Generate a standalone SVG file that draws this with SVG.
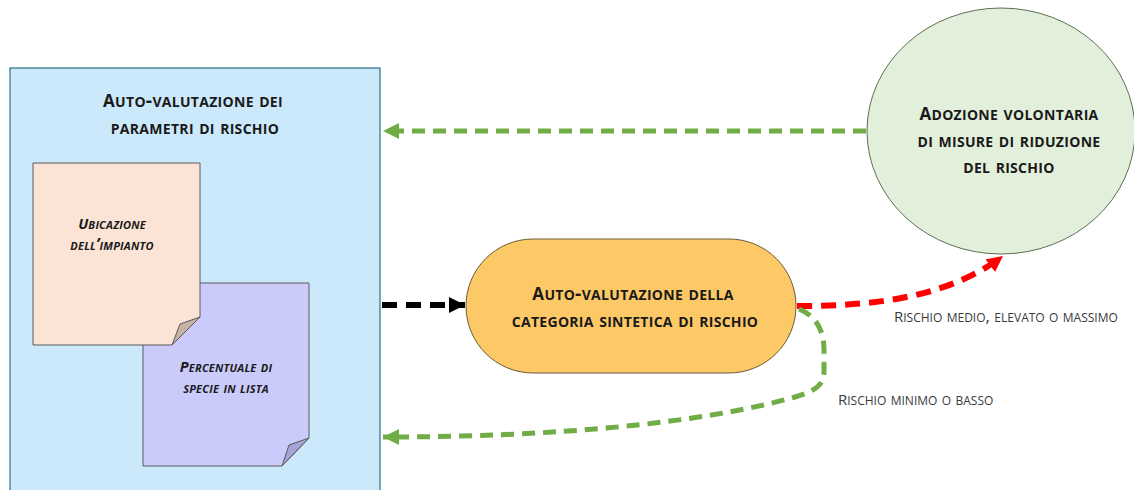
<svg xmlns="http://www.w3.org/2000/svg" width="1134" height="490" viewBox="0 0 1134 490">
<style>
text{font-family:"Open Sans","Liberation Sans",sans-serif;font-variant:small-caps;fill:#1a1a1a;text-anchor:middle}
.t{font-size:19.5px;font-weight:bold;letter-spacing:0.3px}
.t .c{font-size:17px}
.n{font-size:16px;font-weight:bold;font-style:italic;letter-spacing:0.2px}
.n .c{font-size:14.5px}
.l{font-size:17px;text-anchor:start;fill:#3a3a3a}
.l .c{font-size:15px}
.dg{fill:none;stroke:#70ad47;stroke-width:5;stroke-dasharray:13 8}
.dk{fill:none;stroke-width:6;stroke-dasharray:15 9}
</style>
<defs>
<marker id="ag" markerUnits="userSpaceOnUse" markerWidth="20" markerHeight="20" refX="16" refY="8" orient="auto"><path d="M0,0 L16,8 L0,16 z" fill="#70ad47"/></marker>
<marker id="ak" markerUnits="userSpaceOnUse" markerWidth="20" markerHeight="20" refX="16" refY="8" orient="auto"><path d="M0,0 L16,8 L0,16 z" fill="#000"/></marker>
<marker id="ar" markerUnits="userSpaceOnUse" markerWidth="20" markerHeight="20" refX="16" refY="8" orient="auto"><path d="M0,0 L16,8 L0,16 z" fill="#ff0000"/></marker>
</defs>
<rect width="1134" height="490" fill="#fff"/>
<g id="params">
<rect x="10" y="68" width="370" height="430" fill="#cbe9fa" stroke="#2f6f86" stroke-width="1.2"/>
<text class="t" x="193" y="107"><tspan class="c">A</tspan>uto-valutazione dei</text>
<text class="t" x="195" y="134">parametri di rischio</text>
</g>
<g id="percentuale">
<path d="M143,283 H309 V438 L282,466 H143 Z" fill="#cbcbfb" stroke="#5a5a5a" stroke-width="1"/>
<path d="M282,466 L289,445 L309,438 Z" fill="#a3a3d6" stroke="#5a5a5a" stroke-width="1"/>
<text class="n" x="226" y="372"><tspan class="c">P</tspan>ercentuale di</text>
<text class="n" x="226" y="393">specie in lista</text>
</g>
<g id="ubicazione">
<path d="M33,163 H200 V317 L172,345 H33 Z" fill="#fbe4d5" stroke="#5a5a5a" stroke-width="1"/>
<path d="M172,345 L180,324 L200,317 Z" fill="#c8b2a4" stroke="#5a5a5a" stroke-width="1"/>
<text class="n" x="112" y="229"><tspan class="c">U</tspan>bicazione</text>
<text class="n" x="112" y="250">dell’impianto</text>
</g>
<g id="categoria">
<rect x="466" y="239" width="330" height="134" rx="67" fill="#fdc966" stroke="#6b5a3a" stroke-width="1"/>
<text class="t" x="633" y="300"><tspan class="c">A</tspan>uto-valutazione della</text>
<text class="t" x="635" y="327">categoria sintetica di rischio</text>
</g>
<g id="adozione">
<ellipse cx="1001" cy="131" rx="134" ry="123" fill="#e2efda" stroke="#5f6f55" stroke-width="1"/>
<text class="t" x="1009" y="120"><tspan class="c">A</tspan>dozione volontaria</text>
<text class="t" x="1009" y="147">di misure di riduzione</text>
<text class="t" x="1009" y="173">del rischio</text>
</g>
<g id="connectors">
<path d="M866,131 H383" class="dg" marker-end="url(#ag)"/>
<path d="M382,305 H465" class="dk" stroke="#000" marker-end="url(#ak)"/>
<path d="M797,306 C880,306 950,296 1003,256" class="dk" stroke="#ff0000" marker-end="url(#ar)"/>
<path d="M799,309 C816,316 824,330 824,350 L824,372 C824,385 815,391 795,397 C700,424 550,437 383,437" class="dg" marker-end="url(#ag)"/>
<text class="l" x="894" y="322"><tspan class="c">R</tspan>ischio medio, elevato o massimo</text>
<text class="l" x="838" y="405"><tspan class="c">R</tspan>ischio minimo o basso</text>
</g>
</svg>
